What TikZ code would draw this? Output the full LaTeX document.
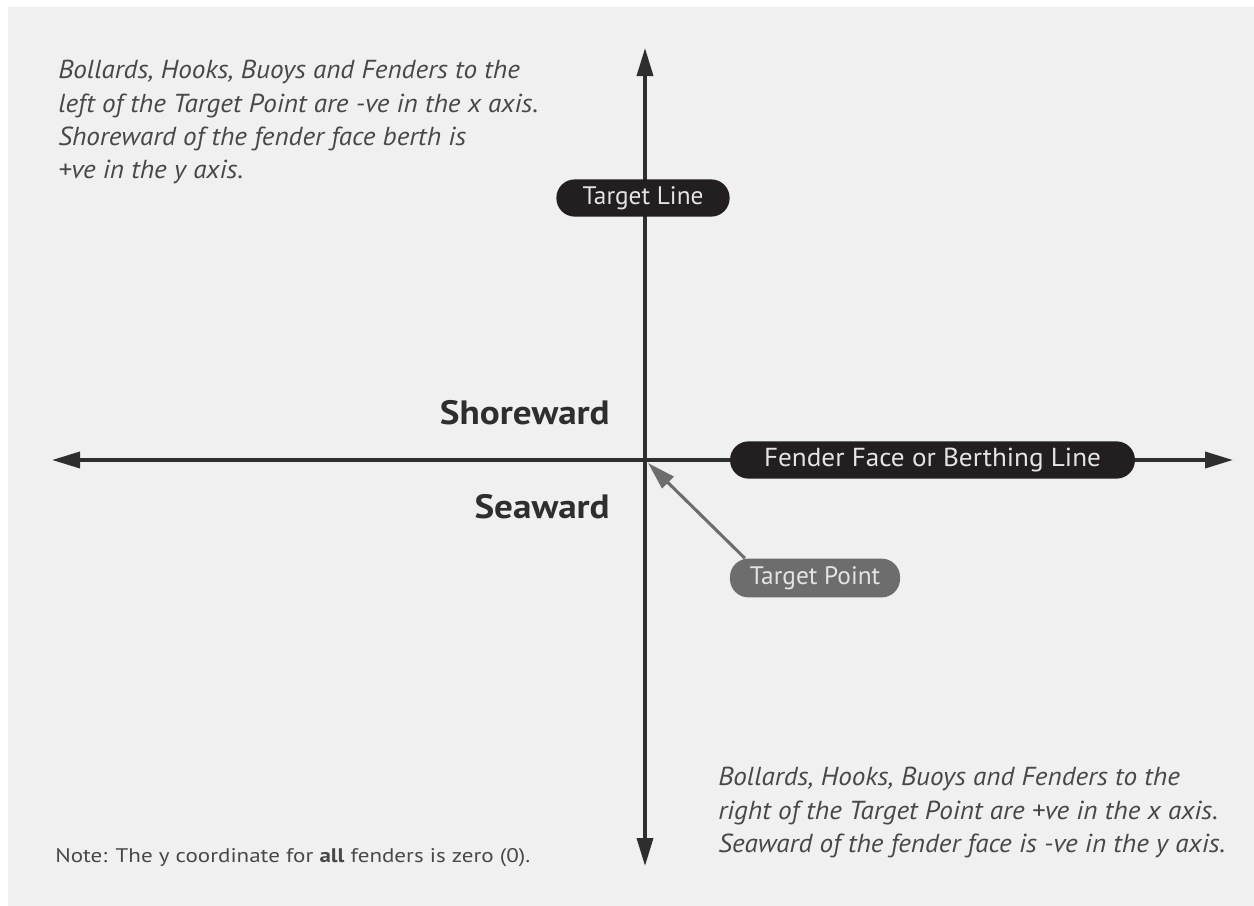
\documentclass[tikz,border=0pt]{standalone}
\usepackage{fontspec}
\setmainfont{PT Sans}
\newfontfamily\widesans{PT Sans}[FakeStretch=1.045]
\newfontfamily\sidesans{PT Sans}[FakeStretch=1.1]
\newfontfamily\notesans{PT Sans}[FakeStretch=1.17]
\usetikzlibrary{arrows.meta}

\definecolor{paper}{HTML}{F0F0F0}
\definecolor{axisgrey}{HTML}{2E2E2E}
\definecolor{pillblack}{HTML}{231F20}
\definecolor{pillgrey}{HTML}{6D6D6D}
\definecolor{textgrey}{HTML}{484848}
\definecolor{pilltext}{HTML}{E4E4E4}

\tikzset{
    pill/.style={fill=pillblack, text=pilltext, rounded corners=0.46cm,
        minimum height=0.93cm, inner sep=0pt, font=\fontsize{18}{20}\selectfont},
    axis/.style={draw=axisgrey, line width=2.5pt,
        {Triangle[length=7mm,width=4mm]}-{Triangle[length=7mm,width=4mm]}},
    remark/.style={text=textgrey, align=left, inner sep=0pt,
        font=\widesans\fontsize{18.5}{23.7}\selectfont\itshape},
    side/.style={text=axisgrey, inner sep=0pt, font=\sidesans\fontsize{24}{28}\selectfont\bfseries},
}

\begin{document}
\begin{tikzpicture}[x=0.025cm, y=-0.025cm]
            \def \xleft     {52}
            \def \xmid      {645}
            \def \xright    {1233}
            \def \ytop      {48}
            \def \ymid      {460}
            \def \ybot      {866}
            \def \xside     {610}
% paper
            \useasboundingbox (0, 0) rectangle (1254, 906);
            \fill [white] (0, 0) rectangle (1254, 906);
            \fill [paper] (8, 7) rectangle (1254, 906);
% axes
            \coordinate (west)   at (\xleft, \ymid);
            \coordinate (east)   at (\xright, \ymid);
            \coordinate (north)  at (\xmid, \ytop);
            \coordinate (south)  at (\xmid, \ybot);
            \coordinate (origin) at (\xmid, \ymid);
            \draw [axis] (west) -- (east);
            \draw [axis] (south) -- (north);
% labels on the axes
            \node [pill, minimum width=4.33cm]  (targetline) at (643, 198) {Target Line};
            \node [pill, minimum width=10.12cm, font=\widesans\fontsize{18.5}{20}\selectfont] (fenderface) at (932.5, \ymid) {Fender Face or Berthing Line};
            \node [pill, fill=pillgrey, minimum width=4.25cm, minimum height=0.97cm] (targetpoint) at (815, 578) {Target Point};
% target point arrow
            \draw [pillgrey, line width=2.2pt, -{Triangle[length=7mm,width=4mm]}, shorten >=3pt]
                ([xshift=0.38cm]targetpoint.north west) -- (origin);
% sides
            \node [side, anchor=east] (shoreward) at (\xside, 413) {Shoreward};
            \node [side, anchor=east] (seaward)   at (\xside, 507) {Seaward};
% remarks
            \node [remark, anchor=north west] (leftremark) at (58, 60)
                {Bollards, Hooks, Buoys and Fenders to the\\
                 left of the Target Point are -ve in the x axis.\\
                 Shoreward of the fender face berth is\\
                 +ve in the y axis.};
            \node [remark, anchor=north west] (rightremark) at (718, 767)
                {Bollards, Hooks, Buoys and Fenders to the\\
                 right of the Target Point are +ve in the x axis.\\
                 Seaward of the fender face is -ve in the y axis.};
            \node [text=textgrey, inner sep=0pt, anchor=west, font=\notesans\fontsize{14}{16}\selectfont] (note) at (55, 858)
                {Note: The y coordinate for \textbf{all} fenders is zero (0).};

        \end{tikzpicture}
\end{document}
